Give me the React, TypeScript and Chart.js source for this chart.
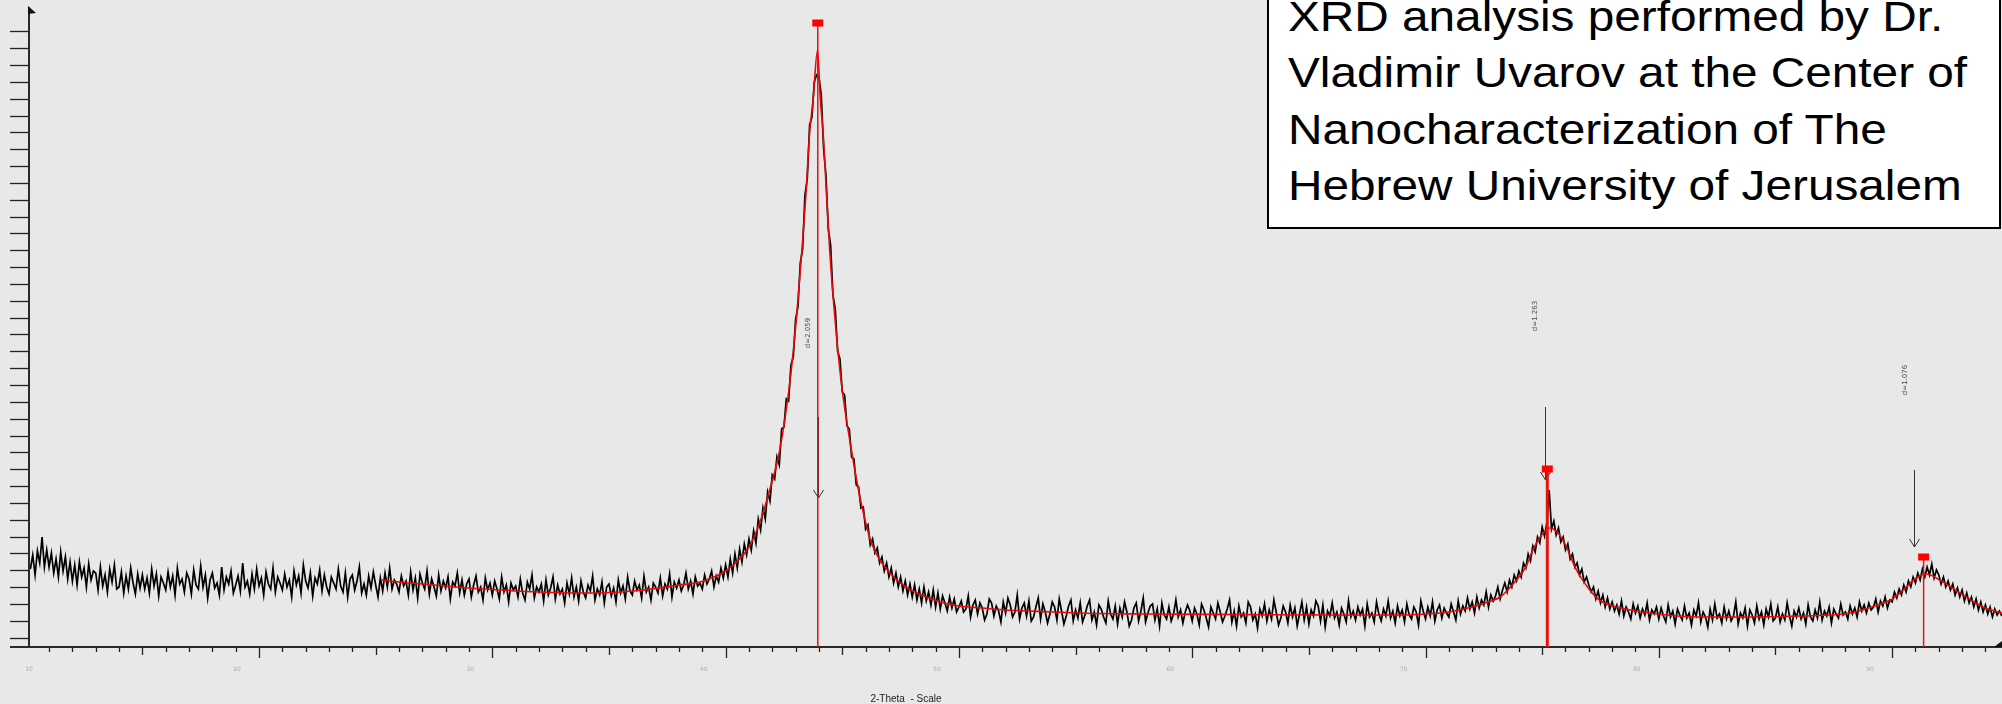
import React, { useEffect, useRef } from "react";
import { Chart, registerables } from "chart.js";

Chart.register(...registerables);

// ---------- data ----------
const START_2THETA = 10.2;
const STEP_2THETA = 0.1;

const scan10 = [
  78, 92, 72, 96, 84, 110, 80, 97,
  80, 94, 74, 88, 70, 95, 76, 90, 68, 85,
  66, 82, 62, 85, 70, 79, 60, 83, 67, 76,
  74, 57, 80, 61, 72, 55, 78, 65, 82, 58,
  60, 75, 54, 71, 58, 79, 64, 53, 73, 59,
  72, 58, 69, 54, 78, 61, 73, 51, 70, 64,
  57, 75, 60, 71, 52, 79, 63, 68, 55, 74,
  68, 53, 77, 62, 58, 81, 60, 72, 49, 67,
  74, 59, 64, 52, 80, 57, 70, 63, 76, 54,
  62, 71, 56, 84, 60, 66, 53, 73, 58, 78,
];
const scan20 = [
  61, 69, 52, 75, 63, 58, 79, 55, 70, 64,
  57, 73, 60, 67, 50, 76, 62, 71, 54, 82,
  66, 59, 74, 51, 69, 63, 77, 56, 72, 60,
  53, 70, 64, 58, 78, 61, 55, 74, 50, 68,
  72, 57, 66, 80, 54, 63, 52, 71, 59, 75,
  62, 50, 69, 56, 74, 60, 79, 58, 67, 63,
  55, 71, 61, 66, 52, 75, 57, 69, 49, 73,
  64, 58, 76, 53, 68, 60, 51, 72, 56, 66,
  59, 70, 48, 65, 61, 74, 54, 67, 52, 63,
  68, 50, 62, 71, 55, 60, 47, 69, 57, 64,
];
const scan30 = [
  52, 66, 58, 48, 70, 55, 62, 45, 64, 57,
  61, 50, 68, 54, 47, 65, 58, 72, 49, 60,
  55, 63, 46, 67, 52, 59, 70, 48, 62, 53,
  58, 44, 64, 53, 69, 50, 60, 46, 66, 55,
  49, 62, 56, 71, 47, 58, 52, 65, 44, 60,
  63, 51, 59, 45, 67, 54, 61, 48, 70, 56,
  52, 66, 57, 62, 49, 71, 55, 60, 47, 64,
  60, 54, 69, 51, 63, 58, 73, 50, 65, 59,
  67, 56, 62, 74, 58, 66, 53, 70, 61, 64,
  58, 72, 63, 68, 76, 60, 71, 65, 79, 69,
];
const scan40 = [
  82, 70, 88, 74, 93, 79, 98, 85, 103, 92,
  108, 97, 116, 104, 128, 117, 139, 128, 155, 146,
  172, 168, 190, 182, 218, 220, 248, 246, 282, 290,
  328, 340, 384, 398, 452, 468, 522, 530, 565, 572,
  570, 552, 498, 472, 418, 402, 352, 338, 296, 288,
  255, 252, 221, 218, 190, 188, 162, 160, 139, 140,
  118, 122, 102, 108, 94, 99, 84, 90, 76, 84,
  70, 79, 64, 74, 60, 70, 56, 66, 52, 63,
  50, 62, 47, 58, 44, 60, 46, 55, 42, 57,
  40, 54, 38, 51, 44, 36, 50, 39, 48, 35,
];
const scan50 = [
  40, 46, 35, 38, 51, 30, 42, 47, 33, 44,
  39, 27, 33, 48, 44, 31, 41, 36, 25, 45,
  34, 49, 42, 30, 35, 52, 28, 39, 44, 31,
  46, 26, 30, 40, 49, 28, 43, 35, 24, 33,
  45, 40, 27, 48, 36, 23, 31, 41, 47, 26,
  37, 29, 44, 25, 32, 41, 47, 27, 35, 22,
  42, 38, 30, 24, 46, 33, 28, 41, 23, 39,
  30, 45, 35, 21, 27, 39, 44, 26, 36, 49,
  25, 34, 41, 43, 27, 38, 21, 44, 32, 28,
  40, 26, 33, 47, 30, 37, 24, 35, 42, 36,
];
const scan60 = [
  26, 39, 33, 22, 43, 37, 29, 20, 40, 34,
  28, 44, 35, 25, 31, 38, 47, 25, 36, 21,
  41, 30, 34, 24, 45, 40, 27, 33, 19, 38,
  31, 43, 26, 37, 28, 47, 35, 22, 29, 41,
  35, 24, 42, 30, 39, 21, 33, 45, 27, 40,
  23, 37, 31, 46, 41, 26, 42, 20, 36, 31,
  44, 29, 35, 22, 39, 33, 25, 46, 30, 36,
  27, 40, 32, 38, 21, 43, 30, 34, 25, 45,
  33, 26, 38, 31, 46, 29, 36, 24, 41, 31,
  37, 25, 43, 32, 28, 40, 35, 22, 46, 36,
];
const scan70 = [
  28, 40, 31, 45, 26, 37, 42, 29, 39, 34,
  30, 43, 35, 27, 46, 33, 41, 36, 49, 38,
  45, 34, 50, 39, 47, 42, 55, 40, 52, 46,
  51, 60, 48, 57, 64, 55, 67, 60, 72, 66,
  76, 70, 84, 79, 93, 86, 101, 95, 110, 104,
  120, 111, 124, 157, 118, 126, 112, 119, 105, 110,
  97, 103, 88, 93, 80, 84, 72, 78, 65, 70,
  62, 55, 60, 48, 56, 44, 52, 40, 49, 38,
  45, 36, 42, 33, 46, 31, 40, 35, 28, 43,
  34, 41, 29, 38, 32, 44, 27, 37, 33, 40,
];
const scan80 = [
  28, 39, 31, 25, 42, 30, 36, 23, 38, 32,
  27, 41, 29, 34, 22, 37, 31, 44, 25, 35,
  30, 20, 38, 27, 43, 29, 33, 24, 40, 28,
  36, 26, 31, 45, 23, 34, 29, 39, 21, 37,
  32, 24, 41, 28, 35, 22, 38, 30, 43, 26,
  29, 40, 25, 33, 27, 44, 31, 21, 36, 30,
  39, 28, 34, 23, 42, 30, 26, 37, 29, 45,
  27, 36, 31, 40, 24, 38, 33, 29, 43, 32,
  35, 28, 41, 33, 39, 30, 45, 36, 42, 34,
  44, 37, 40, 48, 35, 46, 41, 50, 39, 47,
];
const scan90 = [
  45, 55, 49, 58, 52, 62, 55, 66, 60, 70,
  64, 74, 67, 78, 70, 80, 72, 83, 69, 77,
  72, 63, 70, 60, 66, 57, 63, 52, 59, 50,
  57, 46, 54, 44, 50, 40, 48, 37, 45, 35,
  42, 33, 40, 30, 38, 32, 36, 31,
];
const scanCounts = [
  ...scan10, ...scan20, ...scan30, ...scan40, ...scan50,
  ...scan60, ...scan70, ...scan80, ...scan90,
];

const fitTheta = [
  25.25, 26, 27, 28, 29, 30, 31, 32, 33, 34, 35, 36, 37, 38, 38.9, 39.5, 40, 40.6, 41,
  41.46, 41.9, 42.32, 42.75, 43.04, 43.27, 43.45, 43.6, 43.75, 43.94, 44.06, 44.18,
  44.32, 44.46, 44.68, 44.96, 45.39, 45.8, 46.25, 46.7, 47.2, 47.8, 48.4, 49.2, 50,
  51, 52, 53, 54, 56, 58, 62, 66, 68.9, 70, 71, 72, 72.8, 73.2, 73.9, 74.3, 74.6,
  75.04, 75.33, 75.68, 76.04, 76.47, 77.04, 77.45, 78.2, 79.6, 81.75, 83.7, 86, 88.2,
  89.6, 89.94, 90.47, 91.04, 91.47, 92.04, 92.9, 93.9, 94.7,
];
const fitCounts = [
  67, 65, 63, 61, 59, 57.5, 56, 55, 54.3, 54, 54.5, 56, 58.5, 62, 65, 70, 76, 88, 100,
  124, 158, 197, 264, 330, 397, 455, 514, 547, 597, 547, 514,
  455, 397, 330, 264, 197, 145, 104, 84, 70, 59, 52, 45, 41,
  39, 37, 36, 35, 33.5, 33, 32.5, 32, 32, 33, 35, 40, 46, 50, 67, 80, 97,
  114, 119, 114, 100, 77, 57, 47, 40, 34, 30, 30, 31, 34,
  44, 47, 57, 69, 73, 67, 54, 40, 34,
];

const peakTheta = [43.95, 75.22, 91.35];
const peakCounts = [624, 178, 90];
const peakLabels = ["d=2.059", "d=1.263", "d=1.076"];
const labelTheta = [43.56, 74.68, 90.58];
const labelCounts = [314, 331, 267];
const arrowTheta = [43.95, 75.12, 90.93];
const arrowTipCounts = [149, 167, 100];
const arrowTailCounts = [230, 240, 177];

const xTickLabels = ["10", "20", "30", "40", "50", "60", "70", "80", "90"];
const X_MIN = 10.14;
const X_MAX = 94.71;
const Y_MAX = 637;
const Y_TICK_START = 9.4;
const Y_TICK_STEP = 16.84;

const boxLines = [
  "XRD analysis performed by Dr.",
  "Vladimir Uvarov at the Center of",
  "Nanocharacterization of The",
  "Hebrew University of Jerusalem",
];

// ---------- drawing plugin ----------
const xrdPlugin = {
  id: "xrdDecor",
  beforeDraw(chart: any) {
    const ctx = chart.ctx;
    ctx.save();
    ctx.fillStyle = "#e8e8e8";
    ctx.fillRect(0, 0, chart.width, chart.height);
    ctx.restore();
  },
  afterDatasetsDraw(chart: any) {
    const { ctx, chartArea } = chart;
    const x = chart.scales.x;
    const y = chart.scales.y;
    const y0 = y.getPixelForValue(0);
    const left = chartArea.left;
    ctx.save();

    // axes
    ctx.strokeStyle = "#2a2a2a";
    ctx.lineWidth = 2;
    ctx.beginPath();
    ctx.moveTo(10, y0);
    ctx.lineTo(chart.width, y0);
    ctx.stroke();
    ctx.beginPath();
    ctx.moveTo(left, y0);
    ctx.lineTo(left, 7);
    ctx.stroke();

    // axis arrowheads
    ctx.fillStyle = "#111";
    ctx.beginPath();
    ctx.moveTo(left - 1, 6);
    ctx.lineTo(left + 7, 13);
    ctx.lineTo(left - 1, 14);
    ctx.closePath();
    ctx.fill();
    ctx.beginPath();
    ctx.moveTo(chart.width - 8, y0);
    ctx.lineTo(chart.width, y0 - 6);
    ctx.lineTo(chart.width, y0);
    ctx.closePath();
    ctx.fill();

    // x ticks
    ctx.strokeStyle = "#222";
    ctx.lineWidth = 1.3;
    for (let d = Math.ceil(X_MIN); d <= Math.floor(X_MAX); d++) {
      const px = Math.round(x.getPixelForValue(d)) + 0.5;
      const len = d % 10 === 0 ? 11 : d % 5 === 0 ? 8 : 5;
      ctx.beginPath();
      ctx.moveTo(px, y0);
      ctx.lineTo(px, y0 + len);
      ctx.stroke();
    }
    // y ticks
    for (let v = Y_TICK_START; v < Y_MAX - 8; v += Y_TICK_STEP) {
      const py = Math.round(y.getPixelForValue(v)) + 0.5;
      ctx.beginPath();
      ctx.moveTo(left - 19, py);
      ctx.lineTo(left, py);
      ctx.stroke();
    }

    // faint tick labels
    ctx.fillStyle = "rgba(120,120,120,0.55)";
    ctx.font = "6px 'DejaVu Sans'";
    ctx.textAlign = "center";
    ctx.textBaseline = "middle";
    xTickLabels.forEach((lab) => {
      const px = Math.max(left, x.getPixelForValue(Number(lab)) - 22);
      ctx.fillText(lab, px, y0 + 22);
    });

    // axis title
    ctx.fillStyle = "#222";
    ctx.font = "10px 'Liberation Sans', Arial, sans-serif";
    ctx.textAlign = "center";
    ctx.textBaseline = "alphabetic";
    ctx.fillText("2-Theta  - Scale", 906, 702);

    // d-spacing labels (rotated)
    ctx.fillStyle = "#4a4a4a";
    ctx.font = "7px 'DejaVu Sans'";
    peakLabels.forEach((lab, i) => {
      ctx.save();
      ctx.translate(x.getPixelForValue(labelTheta[i]), y.getPixelForValue(labelCounts[i]));
      ctx.rotate(-Math.PI / 2);
      ctx.textAlign = "center";
      ctx.textBaseline = "middle";
      ctx.fillText(lab, 0, 0);
      ctx.restore();
    });

    // arrows
    ctx.strokeStyle = "#333";
    ctx.lineWidth = 1;
    arrowTheta.forEach((t, i) => {
      const ax = Math.round(x.getPixelForValue(t)) + 0.5;
      const tip = y.getPixelForValue(arrowTipCounts[i]);
      const tail = y.getPixelForValue(arrowTailCounts[i]);
      ctx.beginPath();
      ctx.moveTo(ax, tail);
      ctx.lineTo(ax, tip);
      ctx.moveTo(ax - 5, tip - 8);
      ctx.lineTo(ax, tip);
      ctx.lineTo(ax + 5, tip - 8);
      ctx.stroke();
    });

    // peak sticks and markers
    const stickWidths = [1.5, 3, 1.5];
    peakTheta.forEach((t, i) => {
      const px = x.getPixelForValue(t);
      const py = y.getPixelForValue(peakCounts[i]);
      ctx.strokeStyle = "#e61212";
      ctx.lineWidth = stickWidths[i];
      ctx.beginPath();
      ctx.moveTo(px, py);
      ctx.lineTo(px, y0);
      ctx.stroke();
      ctx.fillStyle = "#ff0000";
      ctx.fillRect(px - 5.5, py - 3.5, 11, 7);
    });

    ctx.restore();
  },
};

export default function App() {
  const canvasRef = useRef<HTMLCanvasElement | null>(null);

  useEffect(() => {
    document.body.style.margin = "0";
    const canvas = canvasRef.current;
    if (!canvas) return;
    const scanData = scanCounts.map((c, i) => ({
      x: Math.round((START_2THETA + i * STEP_2THETA) * 100) / 100,
      y: c,
    }));
    const fitData = fitTheta.map((t, i) => ({ x: t, y: fitCounts[i] }));
    const chart = new Chart(canvas, {
      type: "line",
      data: {
        datasets: [
          {
            label: "fit",
            data: fitData,
            borderColor: "rgb(232,10,10)",
            borderWidth: 1.6,
            pointRadius: 0,
            cubicInterpolationMode: "monotone",
            order: 0,
          },
          {
            label: "scan",
            data: scanData,
            borderColor: "#000000",
            borderWidth: 1.7,
            pointRadius: 0,
            tension: 0,
            order: 1,
          },
        ],
      },
      options: {
        animation: false,
        responsive: false,
        devicePixelRatio: 1,
        events: [],
        layout: { padding: { left: 29, right: 0, top: 10, bottom: 57 } },
        scales: {
          x: { type: "linear", min: X_MIN, max: X_MAX, display: false },
          y: { min: 0, max: Y_MAX, display: false },
        },
        plugins: { legend: { display: false }, tooltip: { enabled: false } },
      },
      plugins: [xrdPlugin],
    } as any);
    return () => chart.destroy();
  }, []);

  return (
    <div style={{ position: "relative", width: 2002, height: 704, overflow: "hidden" }}>
      <canvas ref={canvasRef} width={2002} height={704} style={{ display: "block" }} />
      <div
        style={{
          position: "absolute",
          left: 1267,
          top: -3,
          width: 734,
          height: 232,
          boxSizing: "border-box",
          border: "2px solid #000",
          background: "#ffffff",
        }}
      />
      <div
        style={{
          position: "absolute",
          left: 1288,
          top: -12,
          fontFamily: "'Liberation Sans', Arial, sans-serif",
          fontSize: 43,
          lineHeight: "56.3px",
          color: "#000",
          whiteSpace: "nowrap",
          transform: "scaleX(1.11)",
          transformOrigin: "0 0",
        }}
      >
        {boxLines.map((l) => (
          <div key={l}>{l}</div>
        ))}
      </div>
    </div>
  );
}
